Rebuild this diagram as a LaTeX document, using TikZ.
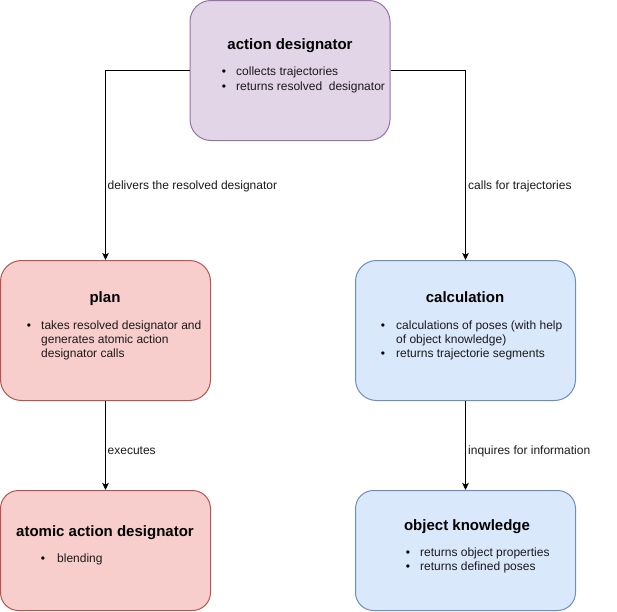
\documentclass[tikz,border=0pt]{standalone}
\usepackage{fontspec}
\setmainfont{Liberation Sans}
\usetikzlibrary{arrows.meta}
\definecolor{purfill}{HTML}{E1D5E7}
\definecolor{purline}{HTML}{9673A6}
\definecolor{redfill}{HTML}{F8CECC}
\definecolor{redline}{HTML}{B85450}
\definecolor{bluefill}{HTML}{DAE8FC}
\definecolor{blueline}{HTML}{6C8EBF}
\definecolor{txt}{HTML}{1A1A1A}
\tikzset{
  box/.style={rectangle, rounded corners=21pt, line width=1pt, inner sep=0pt},
  purbox/.style={box, draw=purline, fill=purfill},
  redbox/.style={box, draw=redline, fill=redfill},
  bluebox/.style={box, draw=blueline, fill=bluefill},
  title/.style={inner sep=0pt, anchor=base, font=\fontsize{15}{18}\selectfont\bfseries, text=black},
  body/.style={inner sep=0pt, anchor=base west, font=\fontsize{12}{14}\selectfont, text=txt},
  blt/.style={inner sep=0pt, anchor=base, font=\fontsize{12}{14}\selectfont, text=black},
  lbl/.style={inner sep=0pt, anchor=base west, font=\fontsize{12}{14}\selectfont, text=txt},
  conn/.style={line width=1pt, -{Stealth[length=7pt,width=6.5pt,inset=1.5pt]}}
}
\begin{document}
\begin{tikzpicture}[x=1pt,y=-1pt]
\useasboundingbox (0,0) rectangle (617,611);
% boxes
\node[purbox, minimum width=200pt, minimum height=140pt] (ad) at (290,70.5) {};
\node[redbox, minimum width=210pt, minimum height=140pt] (plan) at (105.5,330.5) {};
\node[bluebox, minimum width=220pt, minimum height=140pt] (calc) at (465.5,330.5) {};
\node[redbox, rounded corners=18pt, minimum width=210pt, minimum height=120pt] (atom) at (105.5,550.5) {};
\node[bluebox, rounded corners=18pt, minimum width=220pt, minimum height=120pt] (ok) at (465.5,550.5) {};
% connectors
\draw[conn] (ad.west) -| (plan.north);
\draw[conn] (ad.east) -| (calc.north);
\draw[conn] (plan.south) -- (atom.north);
\draw[conn] (calc.south) -- (ok.north);
% connector labels
\node[lbl] (l1) at (107.5,189) {delivers the resolved designator};
\node[lbl] (l2) at (468,189) {calls for trajectories};
\node[lbl] (l3) at (107.5,454) {executes};
\node[lbl] (l4) at (468,454) {inquires for information};
% action designator
\node[title] (adt) at (290,49) {action designator};
\node[blt] (adb1) at (224,75) {•};
\node[body] (adx1) at (236,75) {collects trajectories};
\node[blt] (adb2) at (224,90) {•};
\node[body] (adx2) at (236,90) {returns resolved\ \ designator};
% plan
\node[title] (plt) at (105,302) {plan};
\node[blt] (plb1) at (29,329) {•};
\node[body] (plx1) at (41,329) {takes resolved designator and};
\node[body] (plx2) at (41,343) {generates atomic action};
\node[body] (plx3) at (41,357) {designator calls};
% calculation
\node[title] (cat) at (465,302) {calculation};
\node[blt] (cab1) at (383,329) {•};
\node[body] (cax1) at (396,329) {calculations of poses (with help};
\node[body] (cax2) at (396,343) {of object knowledge)};
\node[blt] (cab2) at (383,357) {•};
\node[body] (cax3) at (396,357) {returns trajectorie segments};
% atomic action designator
\node[title] (att) at (105,536) {atomic action designator};
\node[blt] (atb1) at (43,562) {•};
\node[body] (atx1) at (57,562) {blending};
% object knowledge
\node[title] (okt) at (467,530) {object knowledge};
\node[blt] (okb1) at (408,556) {•};
\node[body] (okx1) at (420,556) {returns object properties};
\node[blt] (okb2) at (408,570) {•};
\node[body] (okx2) at (420,570) {returns defined poses};
\end{tikzpicture}
\end{document}
